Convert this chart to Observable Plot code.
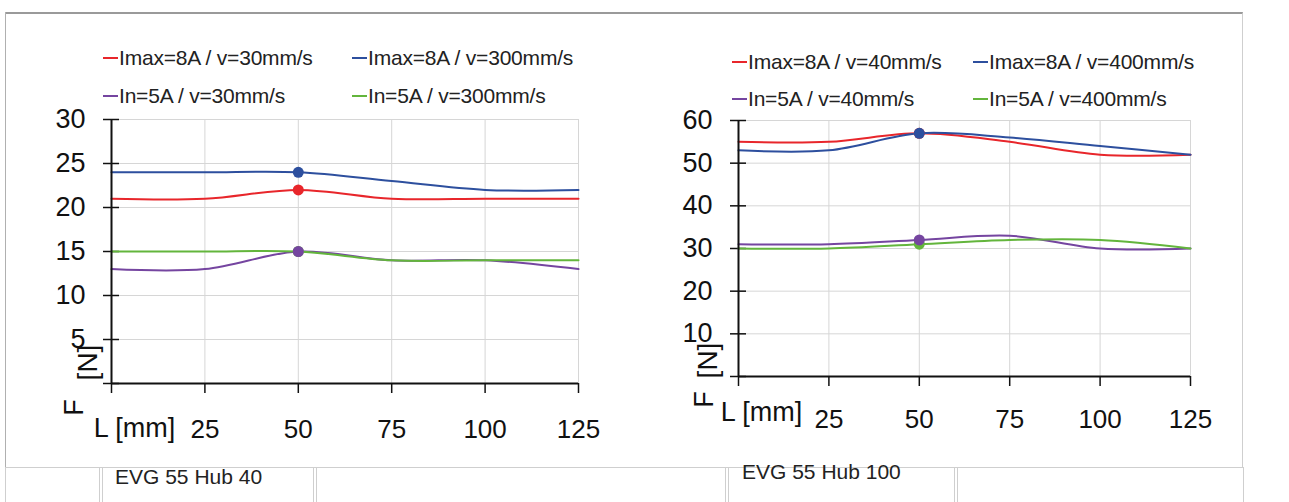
<!DOCTYPE html>
<html>
<head>
<meta charset="utf-8">
<script src="https://cdn.jsdelivr.net/npm/d3@7"></script>
<script src="https://cdn.jsdelivr.net/npm/@observablehq/plot@0.6"></script>
<style>
  html, body { margin: 0; padding: 0; background: #fff; }
  body { width: 1289px; height: 502px; overflow: hidden; position: relative; font-family: "Liberation Sans", Arial, sans-serif; }
  .abs { position: absolute; }
  .frame { left: 5px; top: 12px; width: 1238px; height: 455px; border-top: 2px solid #9a9a9a; border-left: 1px solid #b0b0b0; border-right: 1px solid #cfcfcf; box-sizing: border-box; }
  .leftline { left: 5px; top: 12px; width: 1px; height: 490px; background: #b0b0b0; }
  .hline { left: 5px; top: 467px; width: 1239px; height: 1px; background: #cfcfcf; }
  .cell { top: 467px; height: 40px; border: 1px solid #cfcfcf; box-sizing: border-box; background: #fff; }
  .celltext { font-size: 21px; color: #222; white-space: nowrap; }
  .leg { font-size: 21px; color: #222; white-space: nowrap; display: flex; align-items: center; letter-spacing: -0.2px; }
  .sw { display: inline-block; width: 15px; height: 2px; margin-right: 1px; }
</style>
</head>
<body>
<div class="abs frame"></div>
<div class="abs leftline"></div>
<div class="abs hline"></div>
<div id="cells"></div>
<div id="legends"></div>
<div id="chart1" class="abs" style="left:0px;top:100px;"></div>
<div id="chart2" class="abs" style="left:640px;top:100px;"></div>
<script>
// ---------- data ----------
const lengths = [0, 25, 50, 75, 100, 125];           // L [mm]
// EVG 55 Hub 40 (F [N])
const hub40Names = ["Imax=8A / v=30mm/s", "Imax=8A / v=300mm/s", "In=5A / v=30mm/s", "In=5A / v=300mm/s"];
const hub40_imax_v30  = [21, 21, 22, 21, 21, 21];
const hub40_imax_v300 = [24, 24, 24, 23, 22, 22];
const hub40_in_v30    = [13, 13, 15, 14, 14, 13];
const hub40_in_v300   = [15, 15, 15, 14, 14, 14];
// EVG 55 Hub 100 (F [N])
const hub100Names = ["Imax=8A / v=40mm/s", "Imax=8A / v=400mm/s", "In=5A / v=40mm/s", "In=5A / v=400mm/s"];
const hub100_imax_v40  = [55, 55, 57, 55, 52, 52];
const hub100_imax_v400 = [53, 53, 57, 56, 54, 52];
const hub100_in_v40    = [31, 31, 32, 33, 30, 30];
const hub100_in_v400   = [30, 30, 31, 32, 32, 30];
// tick labels
const xTicks = [0, 25, 50, 75, 100, 125];
const yTicks40 = [0, 5, 10, 15, 20, 25, 30];
const yTicks100 = [0, 10, 20, 30, 40, 50, 60];
const markedLength = 50;
const titles = ["EVG 55 Hub 40", "EVG 55 Hub 100"];
const colors = ["#e8262b", "#2d4f9e", "#7545a0", "#63b53c"];
const dotOrder = [0, 3, 1, 2]; // red, green, blue, purple (later on top)

// ---------- build ----------
function rows(names, series) {
  const out = [];
  series.forEach((vals, i) => vals.forEach((v, j) => out.push({series: names[i], idx: i, L: lengths[j], F: v})));
  return out;
}

function chart(names, series, yMax, yTicks, cfg) {
  const data = rows(names, series);
  const dots = data.filter(d => d.L === markedLength)
    .sort((a, b) => dotOrder.indexOf(a.idx) - dotOrder.indexOf(b.idx));
  const txt = {frameAnchor: "bottom-left", textAnchor: "middle", lineAnchor: "middle", fill: "#111"};
  return Plot.plot({
    width: cfg.width, height: cfg.height,
    marginLeft: cfg.ml, marginRight: cfg.mr, marginTop: cfg.mt, marginBottom: cfg.mb,
    style: {fontFamily: "Liberation Sans, Arial, sans-serif", background: "transparent", color: "#111"},
    x: {domain: [0, 125]},
    y: {domain: [0, yMax]},
    color: {domain: names, range: colors},
    marks: [
      Plot.gridX(xTicks.filter(d => d > 0), {stroke: "#d6d6d6", strokeOpacity: 1}),
      Plot.gridY(yTicks.filter(d => d > 0), {stroke: "#d6d6d6", strokeOpacity: 1}),
      Plot.axisY({ticks: yTicks, tickSize: 8, tickPadding: 18, fontSize: 27, stroke: "#111", strokeWidth: 1.5,
                  tickFormat: d => d === 0 ? "" : String(d), label: null}),
      Plot.axisY({ticks: yTicks, tickSize: -8, tickFormat: () => "", stroke: "#111", strokeWidth: 1.5, label: null}),
      Plot.axisX({ticks: xTicks, tickSize: 10, tickPadding: cfg.xpad, fontSize: 26, stroke: "#111", strokeWidth: 1.5,
                  tickFormat: d => d === 0 ? "" : String(d), label: null}),
      Plot.line(data, {x: "L", y: "F", z: "series", stroke: "series", strokeWidth: 2, curve: "catmull-rom"}),
      Plot.dot(dots, {x: "L", y: "F", fill: "series", r: 5.5}),
      Plot.ruleX([0], {stroke: "#111", strokeWidth: 2}),
      Plot.ruleY([0], {stroke: "#111", strokeWidth: 2}),
      Plot.text(["L [mm]"], {...txt, text: d => d, dx: cfg.lx, dy: cfg.ly, fontSize: 27}),
      Plot.text(["F"], {...txt, text: d => d, dx: cfg.fx, dy: cfg.fy, rotate: -90, fontSize: 27}),
      Plot.text(["[N]"], {...txt, text: d => d, dx: cfg.nx, dy: cfg.ny, rotate: -90, fontSize: 28})
    ]
  });
}

document.getElementById("chart1").append(chart(hub40Names,
  [hub40_imax_v30, hub40_imax_v300, hub40_in_v30, hub40_in_v300], 30, yTicks40,
  {width: 640, height: 360, ml: 111, mr: 62, mt: 19, mb: 77, xpad: 26, lx: 23, ly: 45, fx: -37, fy: 24, nx: -23, ny: -21}));

document.getElementById("chart2").append(chart(hub100Names,
  [hub100_imax_v40, hub100_imax_v400, hub100_in_v40, hub100_in_v400], 60, yTicks100,
  {width: 600, height: 360, ml: 98, mr: 50, mt: 20, mb: 84, xpad: 23, lx: 23, ly: 36, fx: -34, fy: 23, nx: -30, ny: -16}));

// legends (HTML, above charts)
function legend(names, pos) {
  const wrap = document.getElementById("legends");
  names.forEach((n, i) => {
    const p = pos[i];
    const el = document.createElement("div");
    el.className = "abs leg";
    el.style.left = p[0] + "px";
    el.style.top = (p[1] - 12) + "px";
    el.style.height = "24px";
    const sw = document.createElement("span");
    sw.className = "sw";
    sw.style.background = colors[i];
    el.append(sw, document.createTextNode(n));
    wrap.append(el);
  });
}
legend(hub40Names, [[103, 58], [352, 58], [103, 96], [352, 96]]);
legend(hub100Names, [[732, 62], [973, 62], [732, 99], [973, 99]]);

// bottom table cells
const cellDefs = [
  {l: 5, r: 100, t: 467, text: null},
  {l: 102, r: 314, t: 467, text: titles[0], tx: 13, ty: 0},
  {l: 316, r: 726, t: 467, text: null},
  {l: 728, r: 955, t: 467, text: titles[1], tx: 14, ty: -5},
  {l: 957, r: 1244, t: 467, text: null}
];
const cells = document.getElementById("cells");
cellDefs.forEach(c => {
  const el = document.createElement("div");
  el.className = "abs cell";
  el.style.left = c.l + "px";
  el.style.width = (c.r - c.l) + "px";
  el.style.top = c.t + "px";
  cells.append(el);
  if (c.text) {
    const t = document.createElement("div");
    t.className = "abs celltext";
    t.style.left = (c.l + c.tx) + "px";
    t.style.top = (c.t + c.ty - 2) + "px";
    t.textContent = c.text;
    cells.append(t);
  }
});
</script>
</body>
</html>
